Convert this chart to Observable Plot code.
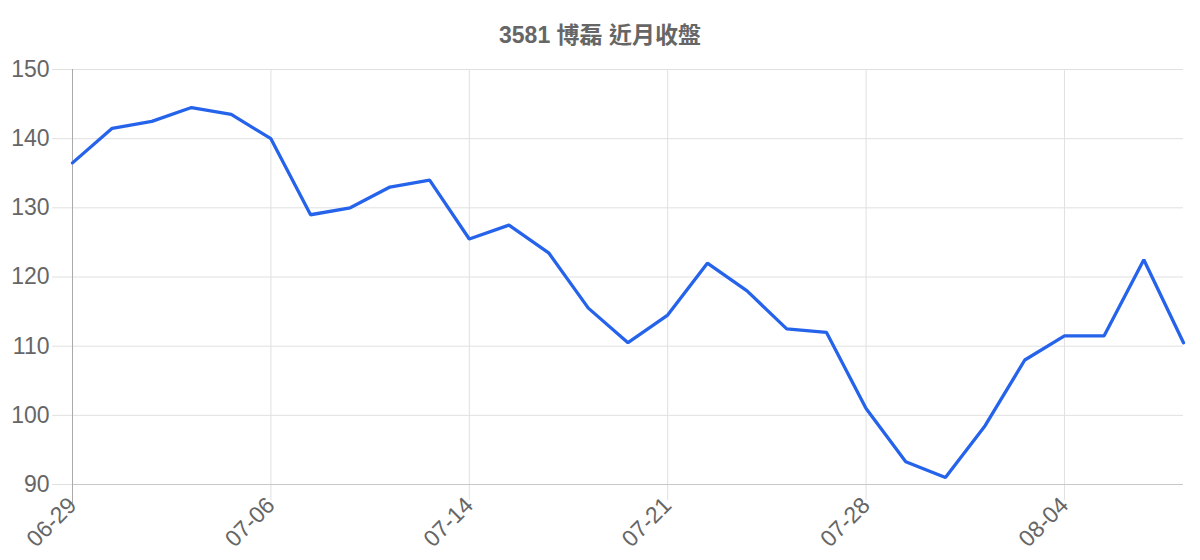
<!DOCTYPE html>
<html>
<head>
<meta charset="utf-8">
<script src="https://cdn.jsdelivr.net/npm/d3@7"></script>
<script src="https://cdn.jsdelivr.net/npm/@observablehq/plot@0.6"></script>
<style>
  html, body { margin: 0; padding: 0; background: #fff; overflow: hidden; }
  #title {
    height: 30px; padding-top: 20px; line-height: 30px;
    text-align: center; font-weight: bold; font-size: 23px; color: #666;
    font-family: "Liberation Sans", "Noto Sans CJK TC", sans-serif;
    width: 1200px;
  }
  #chart svg { display: block; }
</style>
</head>
<body>
<div id="title">3581 博磊 近月收盤</div>
<div id="chart"></div>
<script>
const dates = ["06-29","06-30","07-03","07-04","07-05","07-06","07-07","07-10","07-11","07-12",
  "07-14","07-17","07-18","07-19","07-20","07-21","07-24","07-25","07-26","07-27",
  "07-28","07-31","08-01","08-02","08-03","08-04","08-07","08-08","08-09"];
const closes = [136.5,141.5,142.5,144.5,143.5,140,129,130,133,134,
  125.5,127.5,123.5,115.5,110.5,114.5,122,118,112.5,112,
  101,93.3,91,98.5,108,111.5,111.5,122.5,110.5];
const xTicks = ["06-29","07-06","07-14","07-21","07-28","08-04"];
const yTicks = [90,100,110,120,130,140,150];

const data = dates.map((d, i) => ({date: d, close: closes[i]}));

const chart = Plot.plot({
  width: 1200,
  height: 510,
  marginTop: 19,
  marginBottom: 76,
  marginLeft: 72,
  marginRight: 17,
  style: {color: "#666", fontFamily: "Liberation Sans, Arial, sans-serif", background: "#fff", overflow: "visible"},
  x: {type: "point", domain: dates, padding: 0, round: false},
  y: {domain: [90, 150]},
  marks: [
    Plot.ruleY(yTicks, {y: d => d, stroke: "#e0e0e0", strokeWidth: 1, insetLeft: -20}),
    Plot.ruleX(xTicks.slice(1), {x: d => d, stroke: "#e0e0e0", strokeWidth: 1, insetBottom: -16}),
    Plot.ruleY([90], {stroke: "#c8c8c8", strokeWidth: 1}),
    Plot.ruleX([dates[0]], {stroke: "#aaaaaa", strokeWidth: 1, insetBottom: -19}),
    Plot.axisY({ticks: yTicks, tickSize: 0, tickPadding: 23, fontSize: 23, label: null}),
    Plot.axisX({ticks: xTicks, tickSize: 0, tickPadding: 17, tickRotate: -45, fontSize: 23, label: null}),
    Plot.line(data, {x: "date", y: "close", stroke: "#2563eb", strokeWidth: 3.3, strokeLinejoin: "miter"})
  ]
});
document.getElementById("chart").appendChild(chart);
</script>
</body>
</html>
